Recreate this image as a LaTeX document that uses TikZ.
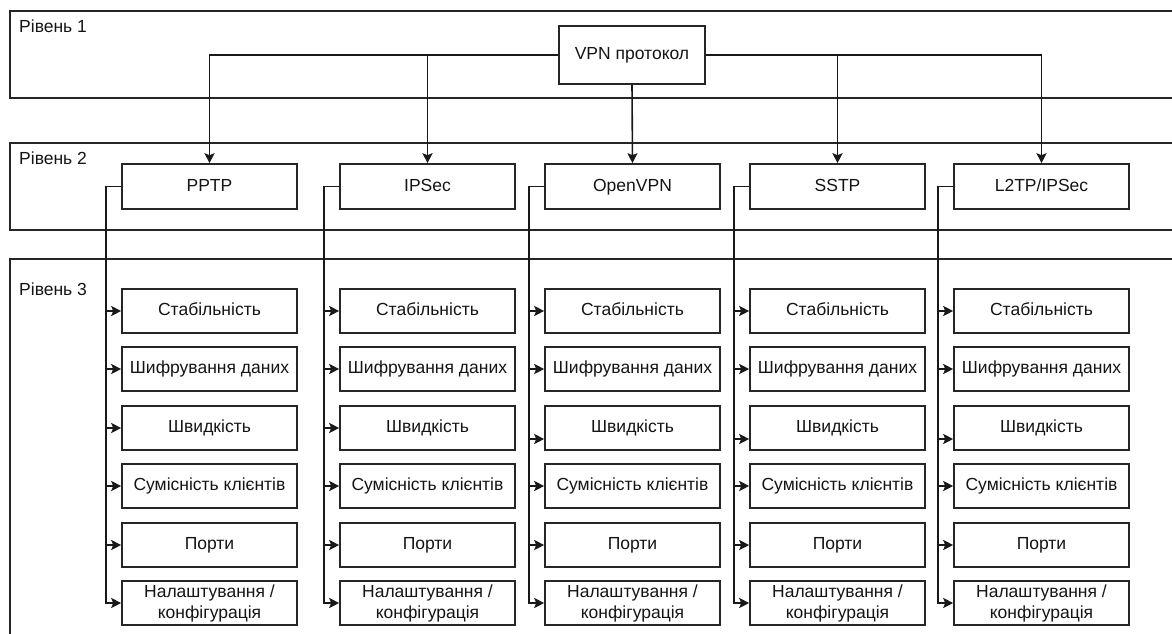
\documentclass[tikz,border=0pt]{standalone}
\usepackage{fontspec}
\setmainfont{Liberation Sans}
\usetikzlibrary{arrows.meta}
\begin{document}
\begin{tikzpicture}[x=1pt,y=-1pt,
  txt/.style={font=\fontsize{17.5}{21}\selectfont, text=black!92},
  band/.style={draw, line width=1.6pt, draw=black!85},
  bandlabel/.style={txt, anchor=base west, inner sep=0pt},
  box/.style={draw, draw=black!85, line width=1.6pt, minimum width=175pt, minimum height=45pt, inner sep=0pt, align=center, txt},
  onebox/.style={box, text height=12.5pt, text depth=3.5pt},
  sbox/.style={onebox, minimum height=44pt},
  twobox/.style={box, minimum height=44pt},
  vpnbox/.style={onebox, minimum width=146pt, minimum height=58pt},
  conn/.style={line width=1.6pt, draw=black!90, -{Stealth[length=10pt,width=10pt,inset=2pt]}}
]
\useasboundingbox (0,0) rectangle (1172,634);
\clip (0,0) rectangle (1172,634);

% bands
\draw[band] (10,11) rectangle (1190,98);
\draw[band] (10,143) rectangle (1190,230);
\draw[band] (10,259) rectangle (1190,650);
\node[bandlabel] (lab1) at (19,32.5) {Рівень 1};
\node[bandlabel] (lab2) at (19,164) {Рівень 2};
\node[bandlabel] (lab3) at (19,295) {Рівень 3};

% level 1
\node[vpnbox] (vpn) at (632,55) {VPN протокол};

% level 2
\foreach \i/\cx/\t in {1/209.5/PPTP, 2/427.5/IPSec, 3/632.5/OpenVPN, 4/837.5/SSTP, 5/1041.5/L2TP\slash IPSec}{
  \node[onebox] (p\i) at (\cx,186.5) {\t};
}

\draw[conn] (vpn.west) -| (p1.north);
\draw[conn] (vpn.west) -| (p2.north);
\draw[conn] (vpn.south) -- (p3.north);
\draw[conn] (vpn.east) -| (p4.north);
\draw[conn] (vpn.east) -| (p5.north);

% level 3
\foreach \i/\cx in {1/209.5, 2/427.5, 3/632.5, 4/837.5, 5/1041.5}{
  \node[sbox] (b\i-1) at (\cx,311) {Стабільність};
  \node[sbox] (b\i-2) at (\cx,369) {Шифрування даних};
  \node[sbox] (b\i-3) at (\cx,428) {Швидкість};
  \node[sbox] (b\i-4) at (\cx,486) {Сумісність клієнтів};
  \node[sbox] (b\i-5) at (\cx,545) {Порти};
  \node[twobox] (b\i-6) at (\cx,603) {Налаштування /\\конфігурація};
  \coordinate (t\i) at ([xshift=-15pt]p\i.west);
  \foreach \r in {1,2,4,5,6}{
    \draw[conn] (p\i.west) -- (t\i) |- (b\i-\r.west);
  }
}
\foreach \i in {1,2}{
  \draw[conn] (p\i.west) -- (t\i) |- (b\i-3.west);
}
\foreach \i in {3,4,5}{
  \coordinate (s\i) at ([yshift=-11pt]b\i-3.west);
  \draw[conn] (p\i.west) -- (t\i) |- (s\i);
}
\end{tikzpicture}
\end{document}
